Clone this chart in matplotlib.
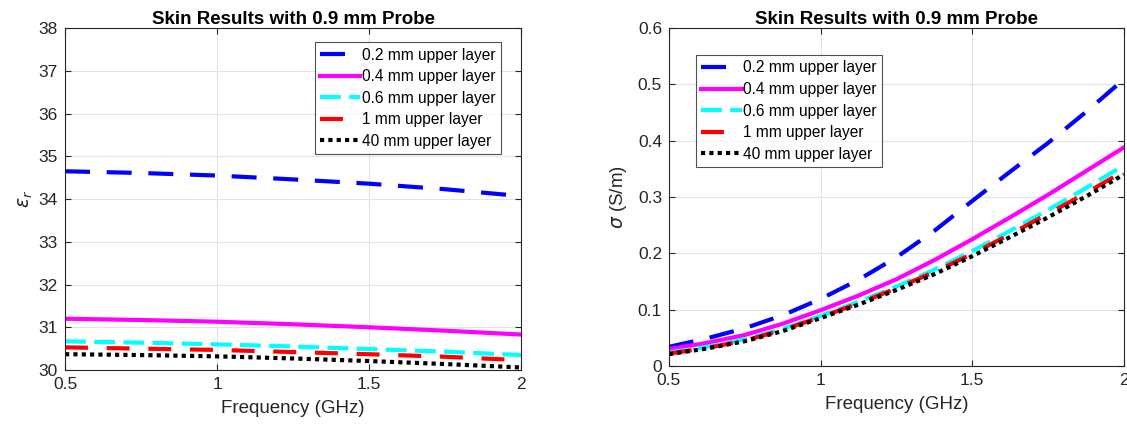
import matplotlib
matplotlib.use("Agg")
import matplotlib.pyplot as plt
import numpy as np

plt.rcParams['font.family'] = ['Liberation Sans', 'DejaVu Sans']

freq_eps = [0.5, 0.75, 1.0, 1.25, 1.5, 1.75, 2.0]
freq_sig = [0.5, 0.625, 0.75, 0.875, 1.0, 1.125, 1.25, 1.375, 1.5, 1.625, 1.75, 1.875, 2.0]
labels = ['0.2 mm upper layer', '0.4 mm upper layer', '0.6 mm upper layer',
          '1 mm upper layer', '40 mm upper layer']

eps_02 = [34.65, 34.61, 34.55, 34.46, 34.36, 34.23, 34.07]
eps_04 = [31.20, 31.17, 31.13, 31.07, 31.00, 30.92, 30.83]
eps_06 = [30.67, 30.64, 30.60, 30.55, 30.49, 30.43, 30.35]
eps_1 = [30.53, 30.50, 30.47, 30.42, 30.37, 30.31, 30.23]
eps_40 = [30.37, 30.35, 30.32, 30.27, 30.21, 30.14, 30.06]

sig_02 = [0.034, 0.049, 0.067, 0.090, 0.119, 0.153, 0.193, 0.240, 0.293, 0.345, 0.396, 0.451, 0.509]
sig_04 = [0.030, 0.041, 0.055, 0.075, 0.099, 0.125, 0.154, 0.188, 0.225, 0.264, 0.304, 0.346, 0.388]
sig_06 = [0.024, 0.034, 0.047, 0.066, 0.089, 0.114, 0.141, 0.171, 0.204, 0.240, 0.277, 0.316, 0.356]
sig_1 = [0.022, 0.032, 0.045, 0.064, 0.087, 0.111, 0.138, 0.167, 0.199, 0.234, 0.270, 0.307, 0.346]
sig_40 = [0.021, 0.031, 0.044, 0.062, 0.085, 0.109, 0.135, 0.163, 0.195, 0.229, 0.264, 0.301, 0.340]

styles = [
    dict(color='#0000ff', linestyle=(0, (6, 4)), linewidth=3),
    dict(color='#ff00ff', linestyle='-', linewidth=3),
    dict(color='#00ffff', linestyle=(0, (5, 2)), linewidth=3),
    dict(color='#ff0000', linestyle=(0, (5.5, 4.5)), linewidth=3),
    dict(color='#000000', linestyle=(0, (1, 1)), linewidth=3),
]

txt = '#262626'
fig = plt.figure(figsize=(11.27, 4.29), dpi=100)
ax1 = fig.add_axes([0.0577, 0.1375, 0.4046, 0.797])
ax2 = fig.add_axes([0.5936, 0.1469, 0.4037, 0.7879])

for ax, x, series, ylim, yticks, ylabel, legpos in [
    (ax1, freq_eps, [eps_02, eps_04, eps_06, eps_1, eps_40], (30, 38), np.arange(30, 38.1, 1),
     r'$\epsilon_r$', (0.956, 0.959)),
    (ax2, freq_sig, [sig_02, sig_04, sig_06, sig_1, sig_40], (0, 0.6), np.arange(0, 0.61, 0.1),
     r'$\sigma$ (S/m)', (0.059, 0.92)),
]:
    for s, st, lab in zip(series, styles, labels):
        ax.plot(x, s, label=lab, **st)
    ax.set_xlim(0.5, 2)
    ax.set_ylim(*ylim)
    ax.set_xticks([0.5, 1, 1.5, 2])
    ax.set_xticklabels(['0.5', '1', '1.5', '2'])
    ax.set_yticks(yticks)
    if ax is ax1:
        ax.set_yticklabels([f'{v:g}' for v in yticks])
    else:
        ax.set_yticklabels(['0'] + [f'{v:.1f}' for v in yticks[1:]])
    ax.grid(True, color='#e3e3e3', linewidth=0.8)
    ax.set_axisbelow(True)
    ax.tick_params(direction='in', length=4, colors=txt, labelsize=12.5, width=0.8,
                   top=True, right=True, pad=5)
    for sp in ax.spines.values():
        sp.set_color(txt)
        sp.set_linewidth(0.8)
    ax.set_title('Skin Results with 0.9 mm Probe', fontsize=13.5, fontweight='bold',
                 color='black', pad=3)
    ax.set_xlabel('Frequency (GHz)', fontsize=13.5, color=txt, labelpad=6)
    ax.set_ylabel(ylabel, fontsize=13.5, color=txt, labelpad=3 if ax is ax1 else 6)
    loc = 'upper right' if ax is ax1 else 'upper left'
    leg = ax.legend(loc=loc, bbox_to_anchor=legpos, fontsize=11.2, frameon=True,
                    fancybox=False, edgecolor=txt, handlelength=2.6, handletextpad=0.1,
                    labelspacing=0.42, borderpad=0.35, borderaxespad=0)
    leg.get_frame().set_linewidth(0.8)

fig.savefig('out.png', dpi=100)
